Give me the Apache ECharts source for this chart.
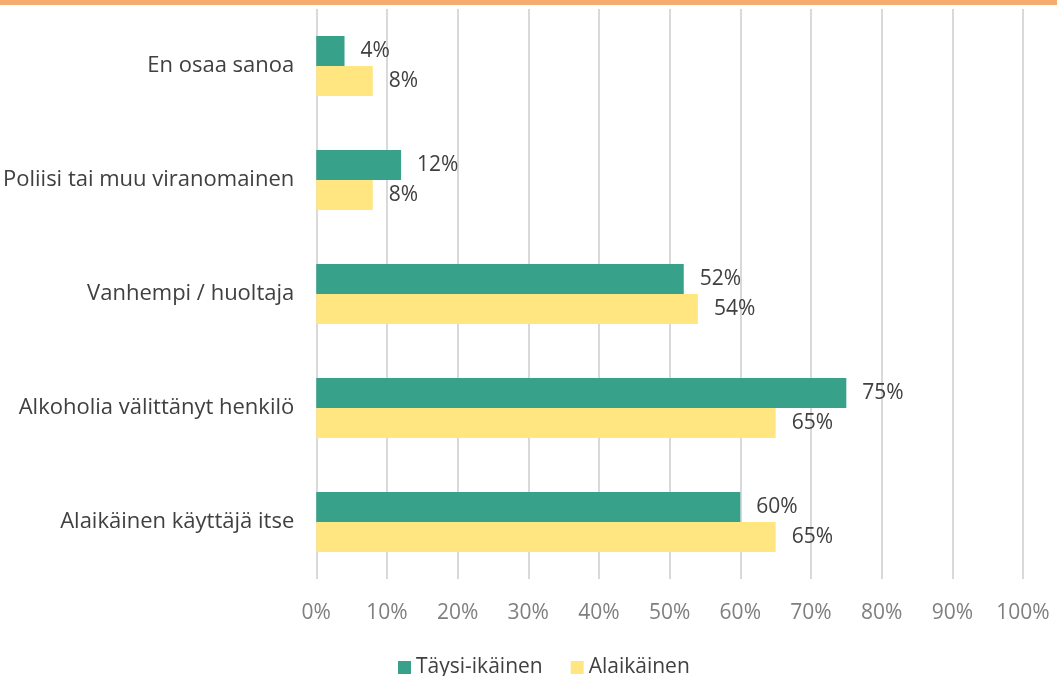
<!DOCTYPE html>
<html>
<head>
<meta charset="utf-8">
<script src="https://cdn.jsdelivr.net/npm/echarts@6/dist/echarts.min.js"></script>
<style>
  html, body { margin: 0; padding: 0; background: #fff; }
  #chart { width: 1057px; height: 676px; }
</style>
</head>
<body>
<div id="chart"></div>
<script>
    'use strict';

    // categories top to bottom
    var categories = [
        'En osaa sanoa',
        'Poliisi tai muu viranomainen',
        'Vanhempi / huoltaja',
        'Alkoholia välittänyt henkilö',
        'Alaikäinen käyttäjä itse'
    ];
    var seriesNames = ['Täysi-ikäinen', 'Alaikäinen'];
    var adultValues = [4, 12, 52, 75, 60];
    var minorValues = [8, 8, 54, 65, 65];

    var FONT = '"Open Sans", sans-serif';
    var chart = echarts.init(document.getElementById('chart'));

    var labelStyle = {
        show: true,
        position: 'right',
        distance: 16,
        formatter: '{c}%',
        color: '#404040',
        fontSize: 21,
        fontFamily: FONT
    };

    chart.setOption({
        animation: false,
        textStyle: { fontFamily: FONT },
        graphic: [{
            type: 'rect',
            shape: { x: 0, y: 0, width: 1057, height: 5 },
            style: { fill: '#F4AD6E' }
        }],
        grid: { left: 315, right: 34, top: 9, bottom: 97, containLabel: false },
        legend: {
            top: 652,
            left: 393,
            itemWidth: 13,
            itemHeight: 13,
            itemGap: 28,
            icon: 'rect',
            textStyle: { color: '#404040', fontSize: 21, fontFamily: FONT },
            data: seriesNames
        },
        xAxis: {
            type: 'value',
            min: 0,
            max: 100,
            interval: 10,
            axisLine: { show: false },
            axisTick: { show: false },
            axisLabel: {
                formatter: '{value}%',
                color: '#7f7f7f',
                fontSize: 21,
                margin: 24
            },
            splitLine: { lineStyle: { color: '#d9d9d9', width: 2 } }
        },
        yAxis: {
            type: 'category',
            inverse: true,
            data: categories,
            axisLine: { show: false },
            axisTick: { show: false },
            axisLabel: { color: '#404040', fontSize: 22, margin: 22 }
        },
        series: [{
            name: seriesNames[0],
            type: 'bar',
            data: adultValues,
            barWidth: 30,
            barGap: '0%',
            itemStyle: { color: '#38A18A' },
            label: labelStyle
        }, {
            name: seriesNames[1],
            type: 'bar',
            data: minorValues,
            barWidth: 30,
            barGap: '0%',
            itemStyle: { color: '#FFE680' },
            label: labelStyle
        }]
    });
</script>
</body>
</html>
